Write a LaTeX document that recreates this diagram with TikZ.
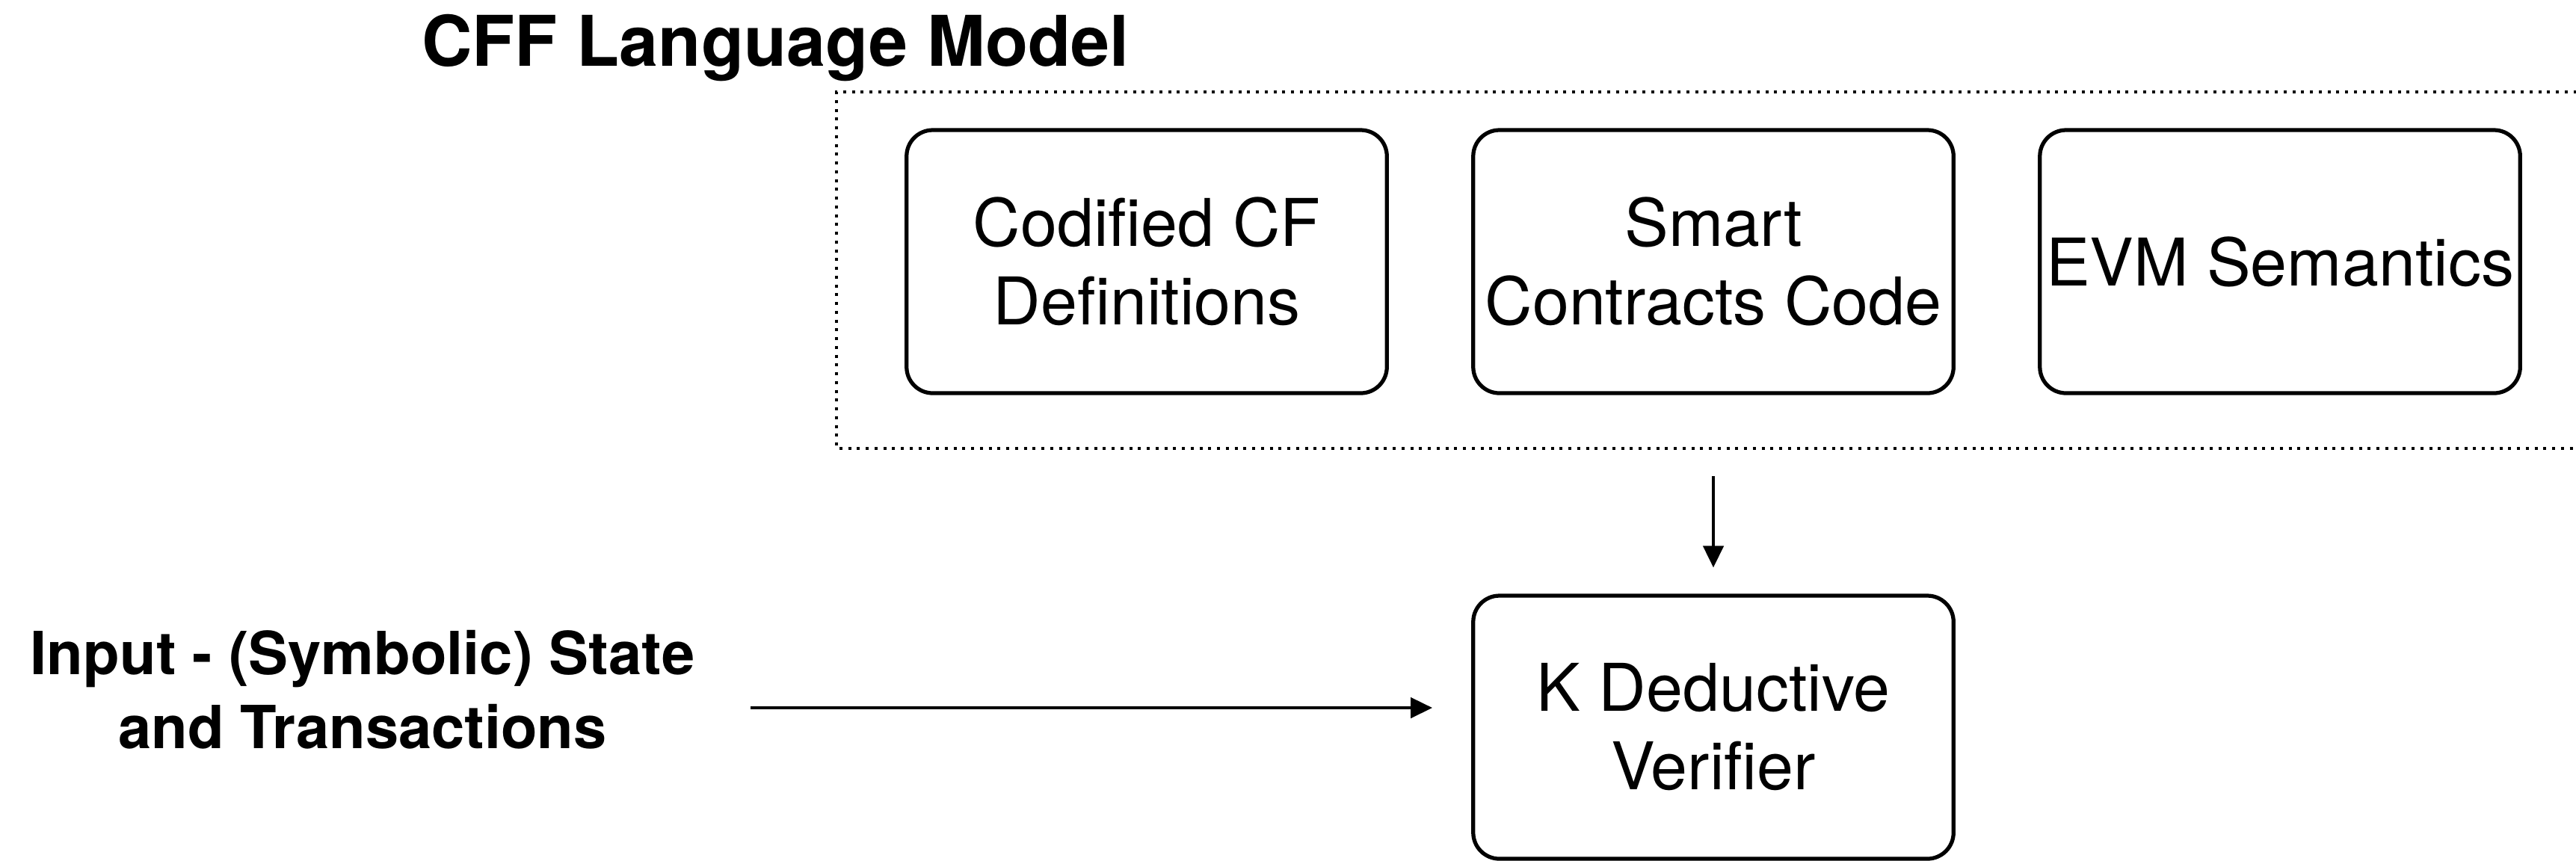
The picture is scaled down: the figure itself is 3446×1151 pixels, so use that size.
\documentclass[tikz,border=0pt]{standalone}
\usepackage{fontspec}
\setmainfont{TeX Gyre Heros}
\usetikzlibrary{arrows.meta,positioning}

\tikzset{
  block/.style={draw, line width=1.05pt, rounded corners=7pt,
    minimum width=128.5pt, minimum height=70.4pt, inner sep=0pt,
    align=center, font=\fontsize{17.6pt}{21pt}\selectfont},
  heading/.style={font=\bfseries\fontsize{18.7pt}{22pt}\selectfont, inner sep=0pt},
  sidelabel/.style={align=center, inner sep=0pt,
    font=\bfseries\fontsize{15.9pt}{19.8pt}\selectfont},
  groupframe/.style={line width=0.9pt, dash pattern=on 0.8pt off 1.55pt},
  flow/.style={line width=0.9pt, -{Triangle[length=5.8pt,width=5.4pt]}},
}

\begin{document}
\begin{tikzpicture}[x=0.2pt,y=-0.2pt]
  \useasboundingbox (0,0) rectangle (3446,1151);

  % title of the model group
  \node[heading, anchor=base west] (title) at (563,88) {CFF Language Model};

  % dotted frame around the model components (open to the right)
  \coordinate (grp-nw) at (1119,123);
  \coordinate (grp-sw) at (1119,600);
  \draw[groupframe] (3470,123) -- (grp-nw) -- (grp-sw) -- (3470,600);
  \coordinate (grp-out) at (2292,600);

  % model components
  \node[block] (cf)  at (1534,350) {Codified CF\\Definitions};
  \node[block] (sc)  at (2292,350) {Smart\\Contracts Code};
  \node[block] (evm) at (3050,350) {EVM Semantics};

  % verifier
  \node[block] (kv) at (2292,973) {K Deductive\\Verifier};

  % input description
  \node[sidelabel] (input) at (485,923) {Input - (Symbolic) State\\and Transactions};
  \coordinate (in-start) at (1004,947);

  % connectors
  \draw[flow, shorten <=7.4pt, shorten >=7pt] (grp-out) -- (kv.north);
  \draw[flow, shorten >=10.4pt] (in-start) -- (in-start -| kv.west);
\end{tikzpicture}
\end{document}
